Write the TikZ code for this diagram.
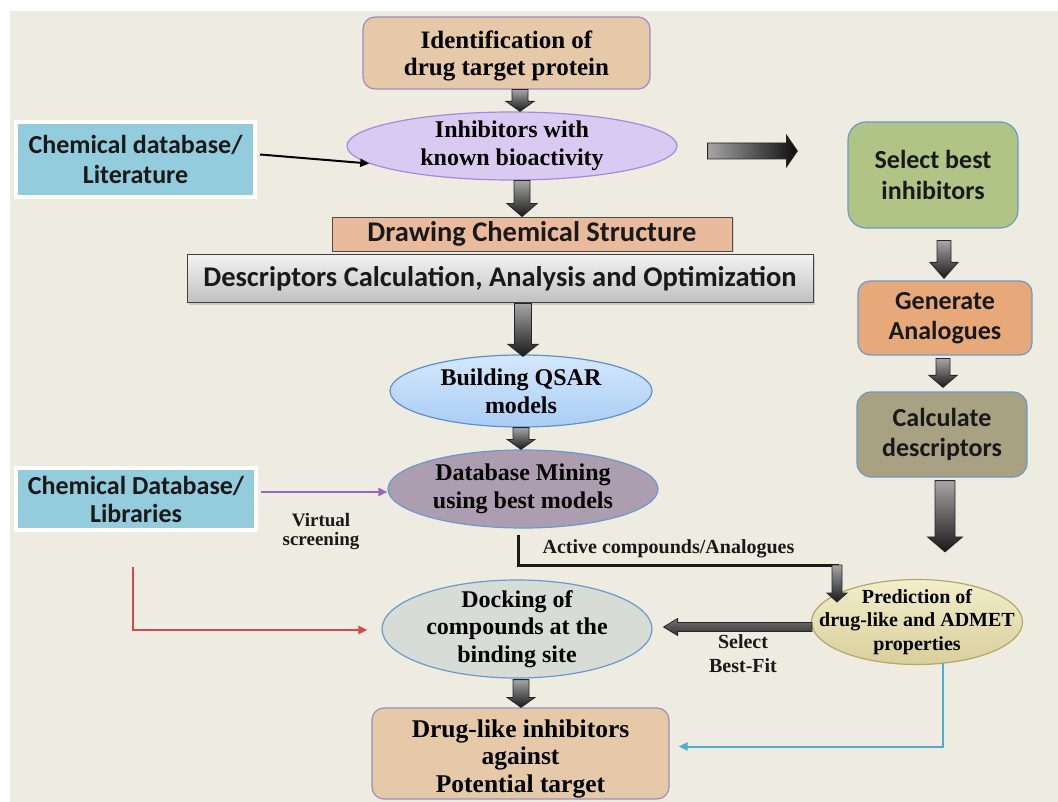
\documentclass[tikz,border=0pt]{standalone}
\usepackage{fontspec}
\setmainfont{Liberation Serif}
\newfontfamily\sansC{Carlito}
\usetikzlibrary{shapes.geometric,calc,shadows,arrows.meta}
\definecolor{bg}{HTML}{EEEBE1}
\definecolor{tanF}{HTML}{E6C9A8}
\definecolor{tanB}{HTML}{A08CBE}
\definecolor{lavF}{HTML}{D9CAF2}
\definecolor{lavB}{HTML}{A68AD8}
\definecolor{blueBox}{HTML}{93CDDD}
\definecolor{drawF}{HTML}{E9BB9C}
\definecolor{qsarT}{HTML}{D4E8FC}
\definecolor{qsarB}{HTML}{A9CDF5}
\definecolor{qsarD}{HTML}{5E8FD0}
\definecolor{mineF}{HTML}{AD9DB0}
\definecolor{bluB}{HTML}{6A9ACD}
\definecolor{dockF}{HTML}{D7DCD6}
\definecolor{predT}{HTML}{F2EECB}
\definecolor{predB}{HTML}{D9CF9C}
\definecolor{predD}{HTML}{B7A66A}
\definecolor{selF}{HTML}{B0C486}
\definecolor{genF}{HTML}{E8A97A}
\definecolor{calF}{HTML}{A8A182}
\definecolor{purpL}{HTML}{9468BE}
\definecolor{redL}{HTML}{D24B4B}
\definecolor{cyanL}{HTML}{4AAED0}
\newcommand\varr[5]{\shadedraw[blockv] let \p1=#1, \p2=#2 in
  (\x1-#3,\y1) -- (\x1+#3,\y1) -- (\x1+#3,\y2+#5) -- (\x1+#4,\y2+#5) -- (\x1,\y2)
  -- (\x1-#4,\y2+#5) -- (\x1-#3,\y2+#5) -- cycle;}
\newcommand\harrR[6]{\shadedraw[#6] let \p1=#1, \p2=#2 in
  (\x1,\y1+#3) -- (\x2-#5,\y1+#3) -- (\x2-#5,\y1+#4) -- (\x2,\y1) -- (\x2-#5,\y1-#4)
  -- (\x2-#5,\y1-#3) -- (\x1,\y1-#3) -- cycle;}
\newcommand\harrL[6]{\shadedraw[#6] let \p1=#1, \p2=#2 in
  (\x1,\y1+#3) -- (\x2+#5,\y1+#3) -- (\x2+#5,\y1+#4) -- (\x2,\y1) -- (\x2+#5,\y1-#4)
  -- (\x2+#5,\y1-#3) -- (\x1,\y1-#3) -- cycle;}
\tikzset{
  txtS/.style={font=\bfseries\fontsize{24pt}{28pt}\selectfont, align=center, inner sep=0pt, text=black},
  txtP/.style={font=\bfseries\fontsize{20pt}{23.5pt}\selectfont, align=center, inner sep=0pt, text=black},
  lbl/.style={font=\bfseries\fontsize{20pt}{20pt}\selectfont, align=center, inner sep=0pt, text=black!90},
  txtC/.style={font=\sansC\bfseries\fontsize{26pt}{31pt}\selectfont, align=center, inner sep=0pt, text=black!90},
  txtL/.style={font=\sansC\bfseries\fontsize{28.5pt}{32pt}\selectfont, align=center, inner sep=0pt, text=black!90},
  rbox/.style={rectangle, rounded corners=12pt, line width=1.2pt},
  ell/.style={ellipse, inner sep=0pt, line width=1.2pt},
  srcbox/.style={rectangle, fill=blueBox, draw=white, line width=4pt,
     drop shadow={opacity=0.25, shadow xshift=2pt, shadow yshift=-2pt}},
  blockv/.style={top color=black!35, bottom color=black!90, draw=black!85, line width=0.8pt},
  thinarrow/.style={line width=2pt, -{Triangle[length=9pt,width=8pt]}},
}
\begin{document}
\begin{tikzpicture}[x=1pt,y=-1pt]
\useasboundingbox (0,0) rectangle (1058,802);
\fill[white] (0,0) rectangle (1058,802);
\fill[bg] (10,11) rectangle (1058,802);

% main column
\node[rbox, fill=tanF, draw=tanB, minimum width=287pt, minimum height=72pt] (idn) at (506.5,53) {};
\node[txtS, font=\bfseries\fontsize{25pt}{27pt}\selectfont] (idnT) at ($(idn.center)+(0,3)$) {Identification of\\drug target protein};
\node[ell, fill=lavF, draw=lavB, minimum width=330pt, minimum height=68pt] (inh) at (512,146) {};
\node[txtS] (inhT) at (inh) {Inhibitors with\\known bioactivity};
\node[rectangle, fill=drawF, draw=black!70, line width=0.8pt, minimum width=400pt, minimum height=34pt, txtL,
  drop shadow={opacity=0.25, shadow xshift=1.5pt, shadow yshift=-1.5pt}] (dcs) at (532,234) {Drawing Chemical Structure};
\node[rectangle, top color=white!95!black, bottom color=black!25, draw=black!75, line width=1pt,
  minimum width=626pt, minimum height=48pt, txtL,
  drop shadow={opacity=0.3, shadow xshift=2pt, shadow yshift=-2pt}] (dsc) at (500,279)
  {Descriptors Calculation, Analysis and Optimization};
\node[ell, top color=qsarT, bottom color=qsarB, draw=qsarD, minimum width=262pt, minimum height=72pt] (qsar) at (521,391) {};
\node[txtS] (qsarT) at (qsar) {Building QSAR\\models};
\node[ell, fill=mineF, draw=bluB, minimum width=270pt, minimum height=78pt] (mine) at (523,489) {};
\node[txtS] (mineT) at (mine) {Database Mining\\using best models};
\node[ell, fill=dockF, draw=bluB, minimum width=270pt, minimum height=98pt] (dock) at (517,629) {};
\node[txtS, font=\bfseries\fontsize{24pt}{27.5pt}\selectfont] (dockT) at (dock) {Docking of\\compounds at the\\binding site};
\node[rbox, fill=tanF, draw=tanB, minimum width=297pt, minimum height=91pt] (drg) at (520.5,753.5) {};
\node[txtS, font=\bfseries\fontsize{25.5pt}{27.5pt}\selectfont] (drgT) at ($(drg.center)+(0,5)$)
  {Drug-like inhibitors\\against\\Potential target};

% left sources
\node[srcbox, minimum width=239pt, minimum height=75pt, txtC, font=\sansC\bfseries\fontsize{26pt}{30pt}\selectfont] (cdl) at (135.5,159.5)
  {Chemical database/\\Literature};
\node[srcbox, minimum width=240pt, minimum height=62pt, txtC, font=\sansC\bfseries\fontsize{26pt}{28pt}\selectfont] (cdb) at (136,499)
  {Chemical Database/\\Libraries};

% right column
\node[rbox, rounded corners=18pt, fill=selF, draw=bluB, minimum width=170pt, minimum height=106pt, txtC] (sel) at (933,175)
  {Select best\\inhibitors};
\node[rbox, rounded corners=12pt, fill=genF, draw=bluB, minimum width=174pt, minimum height=74pt, txtC,
  font=\sansC\bfseries\fontsize{26pt}{30pt}\selectfont] (gen) at (945,318) {Generate\\Analogues};
\node[rbox, rounded corners=14pt, fill=calF, draw=bluB, minimum width=170pt, minimum height=85pt, txtC,
  font=\sansC\bfseries\fontsize{26pt}{29.5pt}\selectfont] (cal) at (942,434.5) {Calculate\\descriptors};
\node[ell, top color=predT, bottom color=predB, draw=predD, minimum width=211pt, minimum height=85pt] (pred) at (917,622) {};
\node[txtP] (predT) at (pred) {Prediction of\\drug-like and ADMET\\properties};

% labels
\node[lbl, font=\bfseries\fontsize{19pt}{19pt}\selectfont] (vs) at (321,532) {Virtual\\screening};
\node[lbl] (acl) at (668.5,549) {Active compounds/Analogues};
\node[lbl, font=\bfseries\fontsize{20pt}{24pt}\selectfont] (sbf) at (743,654) {Select\\Best-Fit};

% thin connectors
\draw[thinarrow, black] ($(cdl.east)+(3,-5)$) -- (inh.187);
\draw[thinarrow, purpL, line width=2.5pt] ($(cdb.east)+(3,-7)$) -- ($(mine.west)+(0,3)$);
\draw[thinarrow, redL] ($(cdb.south)+(-3,35)$) |- ($(dock.west)+(-14,1)$);
\coordinate (acc) at ($(pred.center)+(-80,-57)$);
\draw[line width=3pt, black!90] ($(mine.south)+(-5,6)$) |- ($(acc)+(1.5,0)$);
\draw[thinarrow, cyanL] ($(pred.center)+(26,41)$) |- ($(drg.east)+(9,-7)$);

% block arrows
\varr{($(idn.south)+(13.5,0)$)}{(inh.north)}{8pt}{14pt}{10pt}
\varr{($(inh.south)+(10,0)$)}{(dcs.north)}{8pt}{15pt}{13pt}
\varr{($(dsc.south)+(23,0)$)}{($(qsar.north)+(0,2)$)}{8.5pt}{15pt}{12pt}
\varr{(qsar.south)}{(mine.north)}{8pt}{14pt}{10pt}
\varr{($(dock.south)+(4,1)$)}{(drg.north)}{8pt}{14pt}{10pt}
\varr{($(sel.south)+(11,12)$)}{($(gen.north)+(0,-2)$)}{7pt}{14pt}{16pt}
\varr{($(gen.south)+(-2,3)$)}{($(cal.north)+(0,-4)$)}{7pt}{14pt}{12pt}
\varr{($(cal.south)+(3,3)$)}{($(pred.north)+(0,-27)$)}{10pt}{17.5pt}{15pt}
\varr{(acc)}{($(acc)+(0,37)$)}{5pt}{10pt}{9pt}
\harrR{($(inh.east)+(30,5)$)}{($(sel.west)+(-50,0)$)}{8pt}{16pt}{11pt}{left color=black!35, right color=black!95, draw=black!85, line width=0.8pt}
\harrL{($(pred.west)+(1,5)$)}{($(dock.east)+(11,-2)$)}{4.5pt}{8.5pt}{14pt}{top color=black!55, bottom color=black!80, draw=black!85, line width=0.8pt}
\end{tikzpicture}
\end{document}
